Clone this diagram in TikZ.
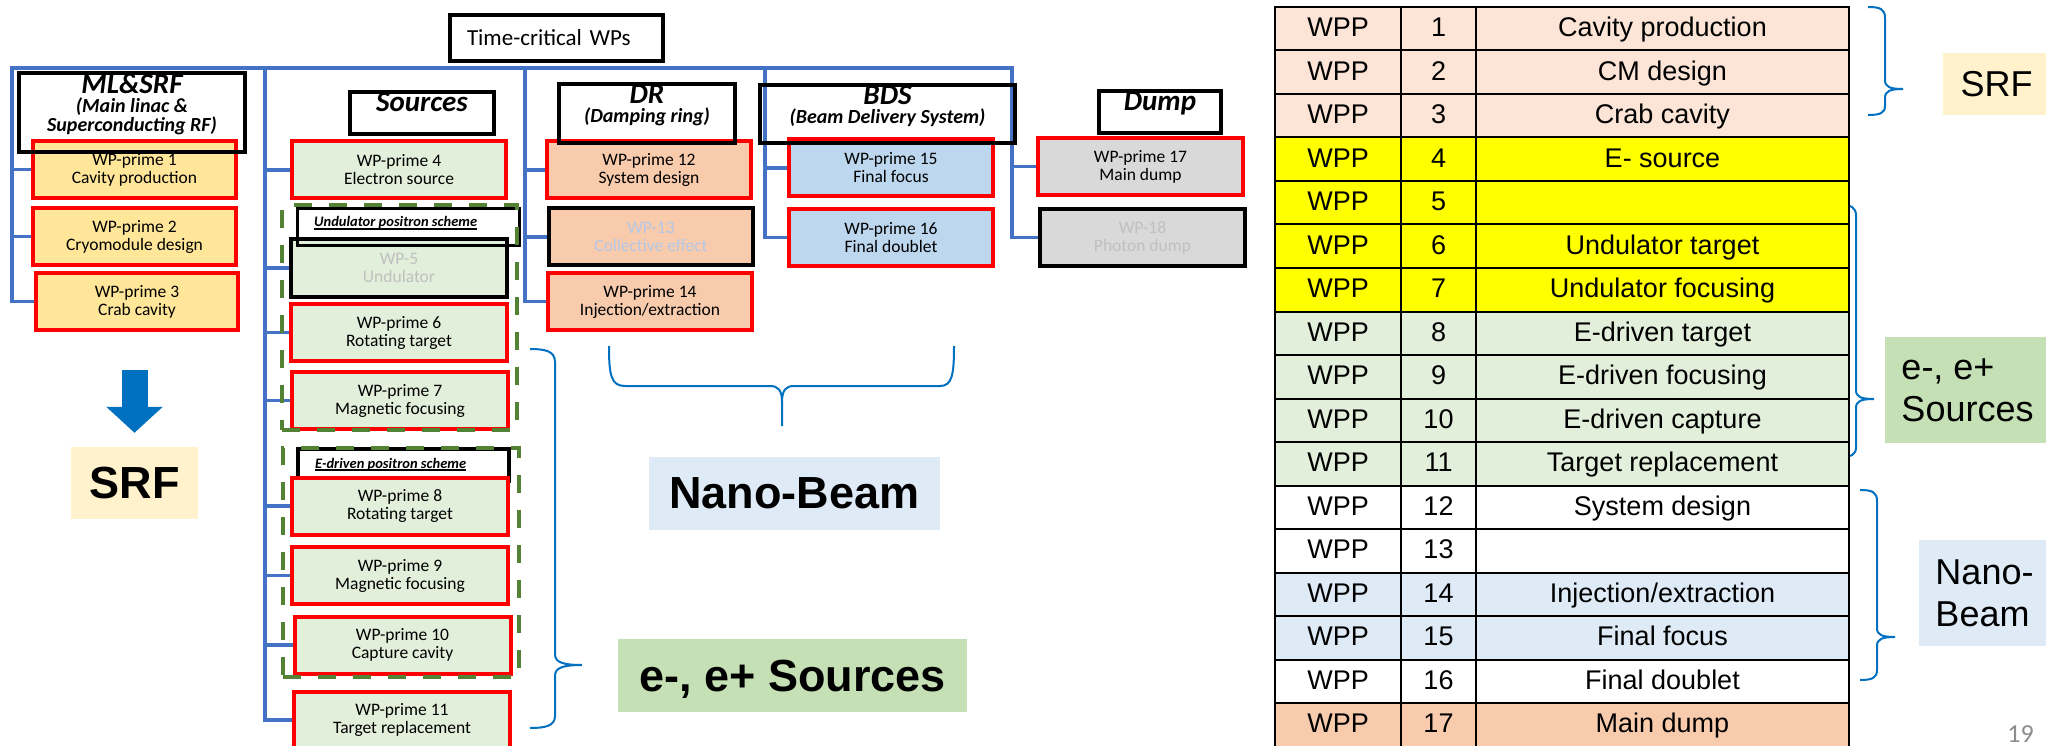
\documentclass[tikz,border=0pt]{standalone}
\usepackage{fontspec}
\setmainfont{Carlito}
\newfontfamily\arialfont{Liberation Sans}
\usepackage{xcolor}
\definecolor{WpRed}{HTML}{FF0000}
\definecolor{ConnBlue}{HTML}{4472C4}
\definecolor{BraceBlue}{HTML}{0070C0}
\definecolor{GroupGreen}{HTML}{548235}
\definecolor{FillSRF}{HTML}{FFE699}
\definecolor{FillSrc}{HTML}{E2EFDA}
\definecolor{FillDR}{HTML}{F8CBAD}
\definecolor{FillBDS}{HTML}{BDD7EE}
\definecolor{FillDump}{HTML}{D9D9D9}
\definecolor{TagCream}{HTML}{FFF2CC}
\definecolor{TagBlue}{HTML}{DEEBF7}
\definecolor{TagGreen}{HTML}{C5E0B4}
\definecolor{RowSRF}{HTML}{FCE4D6}
\definecolor{RowUnd}{HTML}{FFFF00}
\definecolor{RowDump}{HTML}{F8CBAD}
\definecolor{FadeGray}{HTML}{C0C0C0}
\definecolor{FadeBlue}{HTML}{B4C7E7}
\definecolor{PageGray}{HTML}{8C8C8C}
\usepackage{tikz}
\usetikzlibrary{arrows.meta,positioning,backgrounds}

\newsavebox\ulbox
\newcommand\thickul[1]{\sbox\ulbox{#1}\rlap{\rule[-3pt]{\wd\ulbox}{1.8pt}}\usebox\ulbox}

\begin{document}
\begin{tikzpicture}[x=1pt,y=-1pt,
    conn/.style={draw=ConnBlue,line width=3.5pt,line cap=rect},
    wpbox/.style={rectangle,draw=WpRed,line width=4pt,inner sep=0pt,
      minimum width=204pt,minimum height=57pt,align=center,
      font=\fontsize{17.5}{18}\selectfont},
    srfbox/.style={wpbox,fill=FillSRF},
    srcbox/.style={wpbox,fill=FillSrc,minimum width=216pt},
    drbox/.style={wpbox,fill=FillDR},
    bdsbox/.style={wpbox,fill=FillBDS},
    dumpbox/.style={wpbox,fill=FillDump},
    faded/.style={draw=black,text=FadeGray},
    areahead/.style={rectangle,draw=black,line width=4pt,inner sep=0pt},
    areatitle/.style={anchor=north,yshift=-2pt,inner sep=0pt,align=center,
      font=\bfseries\itshape\fontsize{20}{19}\selectfont},
    schemehead/.style={rectangle,draw=black,line width=3.5pt,inner sep=0pt},
    schemetitle/.style={anchor=base west,inner sep=0pt,
      font=\bfseries\itshape\fontsize{14.5}{16}\selectfont},
    schemegroup/.style={rectangle,draw=GroupGreen,line width=4pt,
      dash pattern=on 18pt off 17pt,inner sep=0pt},
    bigtag/.style={rectangle,inner sep=0pt,text depth=0pt,
      font=\arialfont\bfseries\fontsize{45}{50}\selectfont},
    sidetag/.style={rectangle,inner sep=0pt,align=left,
      font=\arialfont\fontsize{36}{42}\selectfont},
    bracket/.style={draw=BraceBlue,line width=2pt},
    bigarrow/.style={draw=BraceBlue,line width=26pt,
      -{Triangle[width=55pt,length=26pt]}},
    tcell/.style={rectangle,draw=black,line width=2pt,inner sep=0pt,
      minimum height=43.5pt,text height=20pt,text depth=4pt,
      font=\arialfont\fontsize{27}{30}\selectfont}
  ]
  \path[use as bounding box] (0,0) rectangle (2046,746);

  % top box and bus points
  \node[rectangle,draw=black,line width=4pt,minimum height=46pt,
    inner xsep=17pt,inner ysep=0pt,text width=179pt,align=left,
    font=\fontsize{23}{24}\selectfont] (tcWP) at (556.5,38) {Time-critical WPs};
  \coordinate (mlTop)   at (12,68);
  \coordinate (srcTop)  at (265,68);
  \coordinate (drTop)   at (525,68);
  \coordinate (bdsTop)  at (765,68);
  \coordinate (dumpTop) at (1012,68);

  % ML&SRF
  \node[srfbox,minimum width=203pt] (b1) at (134.5,169.5) {WP-prime 1\\Cavity production};
  \node[srfbox,minimum width=203pt] (b2) at (134.5,236.5) {WP-prime 2\\Cryomodule design};
  \node[srfbox,minimum width=202pt] (b3) at (137,301.5) {WP-prime 3\\Crab cavity};

  % Sources
  \node[srcbox,minimum width=214pt] (b4) at (399,170) {WP-prime 4\\Electron source};
  \node[srcbox,faded] (b5) at (399,268) {WP-5\\Undulator};
  \node[srcbox] (b6) at (399,332.5) {WP-prime 6\\Rotating target};
  \node[srcbox] (b7) at (400,400.5) {WP-prime 7\\Magnetic focusing};
  \node[schemehead,fill=white,minimum width=211pt,minimum height=32pt] (edrHead) at (403.5,465) {};
  \node[schemetitle] (edrTitle) at (315,468) {\thickul{E-driven positron scheme}};
  \node[srcbox] (b8) at (400,506) {WP-prime 8\\Rotating target};
  \node[srcbox] (b9) at (400,575.5) {WP-prime 9\\Magnetic focusing};
  \node[srcbox] (b10) at (402.5,645) {WP-prime 10\\Capture cavity};
  \node[srcbox] (b11) at (402,720) {WP-prime 11\\Target replacement};

  % DR
  \node[drbox] (b12) at (649,170) {WP-prime 12\\System design};
  \node[drbox,faded,text=FadeBlue] (b13) at (651,237) {WP-13\\Collective effect};
  \node[drbox] (b14) at (650,301.5) {WP-prime 14\\Injection/extraction};

  % BDS
  \node[bdsbox] (b15) at (891,168) {WP-prime 15\\Final focus};
  \node[bdsbox] (b16) at (891,237.5) {WP-prime 16\\Final doublet};

  % Dump
  \node[dumpbox,minimum width=205pt] (b17) at (1140.5,166.5) {WP-prime 17\\Main dump};
  \node[dumpbox,faded,minimum width=205pt] (b18) at (1142.5,237.5) {WP-18\\Photon dump};

  % area headers
  \node[areahead,minimum width=226pt,minimum height=79pt] (mlHead) at (132,112.5) {};
  \node[areatitle] (mlTitle) at (mlHead.north)
    {{\fontsize{29}{29}\selectfont ML\&SRF}\\(Main linac \&\\Superconducting RF)};
  \node[areahead,minimum width=144pt,minimum height=42pt] (srcHead) at (422,113) {};
  \node[areatitle] (srcTitle) at (srcHead.north) {{\fontsize{29}{29}\selectfont Sources}};
  \node[areahead,minimum width=176pt,minimum height=59pt] (drHead) at (647,113.5) {};
  \node[areatitle] (drTitle) at (drHead.north)
    {{\fontsize{29}{29}\selectfont DR}\\(Damping ring)};
  \node[areahead,minimum width=255pt,minimum height=58pt] (bdsHead) at (887.5,114) {};
  \node[areatitle] (bdsTitle) at (bdsHead.north)
    {{\fontsize{29}{29}\selectfont BDS}\\(Beam Delivery System)};
  \node[areahead,minimum width=122pt,minimum height=42pt] (dumpHead) at (1160,112) {};
  \node[areatitle] (dumpTitle) at (dumpHead.north) {{\fontsize{29}{29}\selectfont Dump}};

  % positron schemes
  \node[schemehead,minimum width=222pt,minimum height=37pt] (undHead) at (408.5,227) {};
  \node[schemetitle] (undTitle) at (314,227) {\thickul{Undulator positron scheme}};
  \node[schemegroup,minimum width=235pt,minimum height=225pt] (undGroup) at (399.5,317.5) {};
  \node[schemegroup,minimum width=236pt,minimum height=229pt] (edrGroup) at (401,562.5) {};

  % tags
  \node[bigtag,fill=TagCream,minimum width=127pt,minimum height=72pt] (srfTag) at (134.5,483) {SRF};
  \node[bigtag,fill=TagBlue,minimum width=291pt,minimum height=73pt] (nanoTag) at (794.5,493.5) {Nano-Beam};
  \node[bigtag,fill=TagGreen,minimum width=349pt,minimum height=73pt] (srcTag) at (792.5,675.5) {e-, e+ Sources};
  \draw[bigarrow,shorten <=38pt,shorten >=14pt] (srfTag.north |- b3.south) -- (srfTag.north);

  % braces
  \draw[bracket] (530,349) .. controls (545,349) and (555,351) .. (555,362)
    -- (555,654) .. controls (555,662) and (562,665) .. (582,665)
    .. controls (562,665) and (555,668) .. (555,676)
    -- (555,716) .. controls (555,726) and (545,728) .. (530,728);
  \draw[bracket] (782,426) -- (782,402) .. controls (782,390) and (778,386) .. (770,386)
    -- (625,386) .. controls (611,386) and (609,375) .. (609,346)
    (782,402) .. controls (782,390) and (786,386) .. (794,386)
    -- (940,386) .. controls (952,386) and (954,375) .. (954,346);
  \draw[bracket] (1868,7) .. controls (1880,7) and (1885,9) .. (1885,18)
    -- (1885,80) .. controls (1885,87) and (1890,89) .. (1903,89)
    .. controls (1890,89) and (1885,91) .. (1885,98)
    -- (1885,106) .. controls (1885,113) and (1880,115) .. (1868,115);
  \draw[bracket] (1840,205) .. controls (1851,205) and (1856,207) .. (1856,216)
    -- (1856,390) .. controls (1856,397) and (1861,399) .. (1874,399)
    .. controls (1861,399) and (1856,401) .. (1856,408)
    -- (1856,447) .. controls (1856,455) and (1851,457) .. (1840,457);
  \draw[bracket] (1860,490) .. controls (1872,490) and (1877,492) .. (1877,501)
    -- (1877,628) .. controls (1877,635) and (1882,637) .. (1895,637)
    .. controls (1882,637) and (1877,639) .. (1877,646)
    -- (1877,670) .. controls (1877,678) and (1872,680) .. (1860,680);

  \node[sidetag,fill=TagCream,minimum width=107pt,minimum height=62pt] (srfSide) at (1996.5,84) {SRF};
  \node[sidetag,fill=TagGreen,minimum width=165pt,minimum height=106pt] (srcSide) at (1967.5,390) {e-, e+\\Sources};
  \node[sidetag,fill=TagBlue,minimum width=131pt,minimum height=106pt] (nanoSide) at (1984.5,593) {Nano-\\Beam};
  \node[anchor=base east,inner sep=0pt,text=PageGray,font=\fontsize{26}{26}\selectfont]
    (pageNo) at (2034,742) {19};

  % WPP table
  \foreach \i/\task/\rowc in {1/Cavity production/RowSRF, 2/CM design/RowSRF,
      3/Crab cavity/RowSRF, 4/E- source/RowUnd, 5//RowUnd,
      6/Undulator target/RowUnd, 7/Undulator focusing/RowUnd,
      8/E-driven target/FillSrc, 9/E-driven focusing/FillSrc,
      10/E-driven capture/FillSrc, 11/Target replacement/FillSrc,
      12/System design/white, 13//white, 14/{Injection/extraction}/TagBlue,
      15/Final focus/TagBlue, 16/Final doublet/white, 17/Main dump/RowDump}{
    \node[tcell,fill=\rowc,minimum width=126pt] (wpp\i) at (1338,{43.5*\i-14.75}) {WPP};
    \node[tcell,fill=\rowc,minimum width=75pt] (num\i) at (1438.5,{43.5*\i-14.75}) {\i};
    \node[tcell,fill=\rowc,minimum width=373pt] (task\i) at (1662.5,{43.5*\i-14.75}) {\task};
  }

  % connectors
  \begin{scope}[on background layer]
    \fill[white] (0,0) rectangle (2046,746);
    \draw[conn] (mlTop) -- (dumpTop);
    \foreach \b in {b1,b2,b3} \draw[conn] (mlTop) |- (\b.west);
    \foreach \b in {b4,b5,b6,b7,b8,b9,b10,b11} \draw[conn] (srcTop) |- (\b.west);
    \foreach \b in {b12,b13,b14} \draw[conn] (drTop) |- (\b.west);
    \foreach \b in {b15,b16} \draw[conn] (bdsTop) |- (\b.west);
    \foreach \b in {b17,b18} \draw[conn] (dumpTop) |- (\b.west);
  \end{scope}
\end{tikzpicture}
\end{document}
